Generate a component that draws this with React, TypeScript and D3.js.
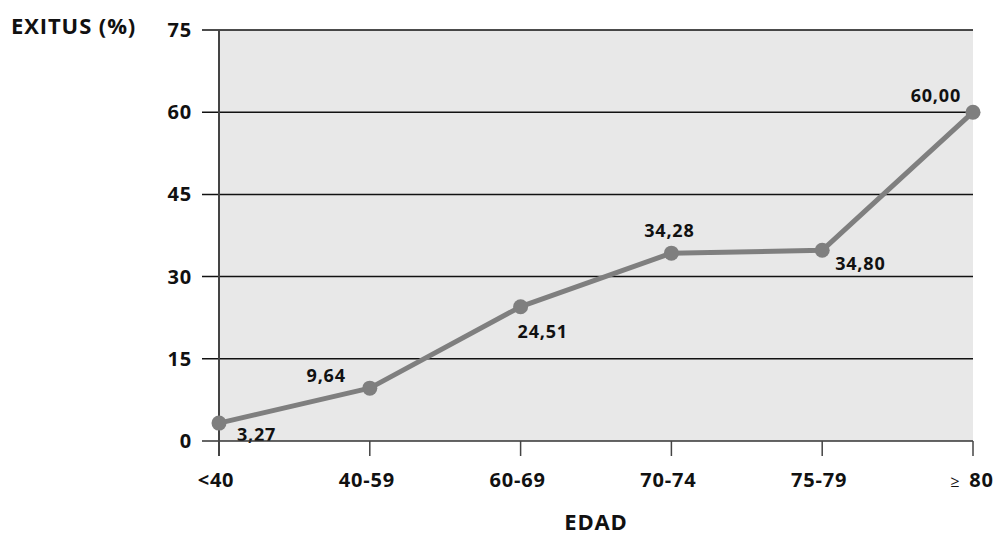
import React from "react";
import * as d3 from "d3";

const categories = ["<40", "40-59", "60-69", "70-74", "75-79", "≥ 80"];
const values = [3.27, 9.64, 24.51, 34.28, 34.8, 60.0];
const valueLabels = ["3,27", "9,64", "24,51", "34,28", "34,80", "60,00"];
const yTicks = [0, 15, 30, 45, 60, 75];
// label placement relative to point: [dx, dy, anchor]
const labelOffsets: [number, number, string][] = [
  [18, 18, "start"],
  [-24, -6, "end"],
  [-3, 31, "start"],
  [-2, -16, "middle"],
  [13, 20, "start"],
  [-12, -10, "end"],
];

const W = 1000;
const H = 537;
const left = 219;
const right = 973;
const top = 30;
const bottom = 441;

export default function App() {
  const x = d3.scalePoint<string>().domain(categories).range([left, right]);
  const y = d3.scaleLinear().domain([0, 75]).range([bottom, top]);
  const line = d3
    .line<number>()
    .x((_, i) => x(categories[i]) as number)
    .y((d) => y(d));
  const font = "'Open Sans', 'DejaVu Sans', sans-serif";
  const textStyle: React.CSSProperties = {
    fontFamily: font,
    fontWeight: 700,
    fontSize: 20,
    letterSpacing: 0.8,
    fill: "#111",
  };
  const n = categories.length;
  return (
    <svg
      width={W}
      height={H}
      style={{ position: "absolute", left: 0, top: 0 }}
    >
      <rect x={0} y={0} width={W} height={H} fill="#fff" />
      <rect x={left} y={top} width={right - left} height={bottom - top} fill="#e8e8e8" />
      {values.map((v, i) => (
        <text
          key={"l" + i}
          x={(x(categories[i]) as number) + labelOffsets[i][0]}
          y={y(v) + labelOffsets[i][1]}
          textAnchor={labelOffsets[i][2] as any}
          style={{ ...textStyle, fontSize: 18, letterSpacing: 0.8 }}
        >
          {valueLabels[i]}
        </text>
      ))}
      {yTicks.map((t) => (
        <g key={t}>
          <line
            x1={202}
            x2={right}
            y1={y(t)}
            y2={y(t)}
            stroke={t === 0 ? "#333" : "#111"}
            strokeWidth={1.5}
          />
          <text x={192} y={y(t)} dy="0.35em" textAnchor="end" style={textStyle}>
            {t}
          </text>
        </g>
      ))}
      <line x1={left} x2={left} y1={top} y2={456} stroke="#444" strokeWidth={2} />
      {categories.map((c, i) => (
        <g key={c}>
          <line x1={x(c)} x2={x(c)} y1={bottom} y2={456} stroke="#444" strokeWidth={1.5} />
          <text
            x={i === n - 1 ? 972 : (x(c) as number) - 3}
            y={487}
            textAnchor="middle"
            style={textStyle}
          >
            {i === n - 1 ? (
              <>
                <tspan style={{ fontSize: 16, fontWeight: 400 }}>≥</tspan>
                <tspan dx={9}>80</tspan>
              </>
            ) : (
              c
            )}
          </text>
        </g>
      ))}
      <path d={line(values) || ""} fill="none" stroke="#7f7f7f" strokeWidth={5} strokeLinejoin="round" />
      {values.map((v, i) => (
        <circle key={i} cx={x(categories[i])} cy={y(v)} r={7.5} fill="#7f7f7f" />
      ))}
      <text x={11} y={34} style={{ ...textStyle, fontSize: 22, letterSpacing: 0.9 }}>
        EXITUS (%)
      </text>
      <text x={596} y={530} textAnchor="middle" style={{ ...textStyle, fontSize: 22 }}>
        EDAD
      </text>
    </svg>
  );
}
